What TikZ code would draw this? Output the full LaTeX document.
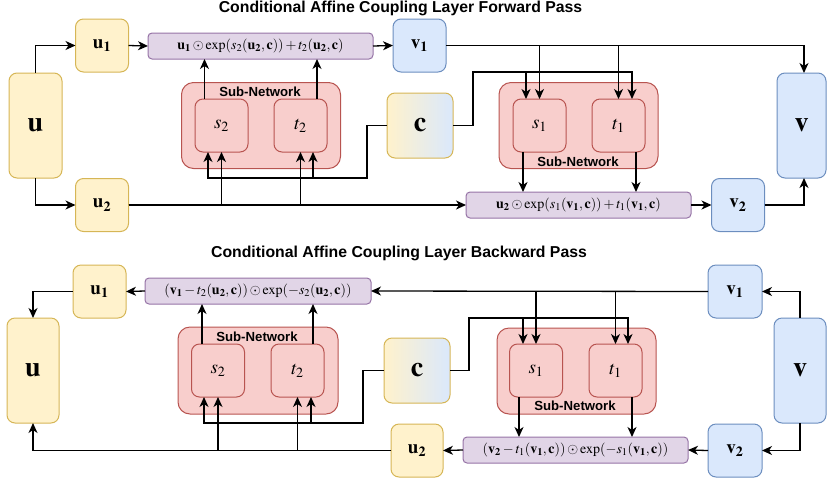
\documentclass[tikz,border=0pt]{standalone}
\usepackage{mathptmx}
\usepackage[no-math]{fontspec}
\setmainfont{Liberation Serif}
\newfontfamily\titlefont{Liberation Sans}
\usetikzlibrary{arrows.meta,calc}
\definecolor{yfill}{HTML}{FFF2CC}
\definecolor{ydraw}{HTML}{D6B656}
\definecolor{bfill}{HTML}{DAE8FC}
\definecolor{bdraw}{HTML}{6C8EBF}
\definecolor{pfill}{HTML}{E1D5E7}
\definecolor{pdraw}{HTML}{9673A6}
\definecolor{rfill}{HTML}{F8CECC}
\definecolor{rdraw}{HTML}{B85450}
\tikzset{
  basebox/.style={line width=1pt, inner sep=0pt, outer sep=0pt, text=black},
  ybox/.style={basebox, fill=yfill, draw=ydraw, rounded corners=8pt},
  bbox/.style={basebox, fill=bfill, draw=bdraw, rounded corners=8pt},
  gbox/.style={basebox, left color=yfill, right color=bfill, draw=ydraw, rounded corners=8pt},
  pbox/.style={basebox, fill=pfill, draw=pdraw, rounded corners=4pt, minimum width=225pt, minimum height=26pt, font=\fontsize{14}{14}\selectfont},
  subnet/.style={basebox, fill=rfill, draw=rdraw, rounded corners=12pt, minimum width=159pt, minimum height=86pt},
  inner/.style={basebox, fill=rfill, draw=rdraw, rounded corners=8pt, minimum width=53pt, minimum height=53pt, font=\fontsize{19}{19}\selectfont},
  small/.style={minimum width=53pt, minimum height=53pt, font=\fontsize{19}{19}\selectfont},
  big/.style={minimum width=53pt, minimum height=105pt, font=\fontsize{28}{28}\selectfont},
  cnode/.style={minimum width=66pt, minimum height=65pt, font=\fontsize{28}{28}\selectfont},
  ttl/.style={font=\titlefont\bfseries\fontsize{15.8}{16}\selectfont, inner sep=0pt},
  snl/.style={font=\titlefont\bfseries\fontsize{13.2}{14}\selectfont, inner sep=0pt},
  arr/.style={line width=1.3pt, -{Stealth[length=10pt,width=9pt,inset=3pt]}},
}
\begin{document}
\begin{tikzpicture}[x=1pt,y=-1pt]
\useasboundingbox (0,0) rectangle (827,483);
% ---------------- Forward pass ----------------
\node[ttl] (titleF) at (400.5,8) {Conditional Affine Coupling Layer Forward Pass};
\node[ybox,big] (uT) at (35.5,125.5) {$\mathbf{u}$};
\node[ybox,small] (u1T) at (102,45.5) {$\mathbf{u_1}$};
\node[ybox,small] (u2T) at (102,205) {$\mathbf{u_2}$};
\node[pbox] (f1T) at (260.5,46) {$\mathbf{u_1}\odot\exp(s_2(\mathbf{u_2},\mathbf{c}))+t_2(\mathbf{u_2},\mathbf{c})$};
\node[bbox,small] (v1T) at (419.5,45.5) {$\mathbf{v_1}$};
\node[subnet] (subLT) at (261,125.5) {};
\node[snl] (lblLT) at (260,92) {Sub-Network};
\node[inner] (s2T) at (221.5,125.5) {$s_2$};
\node[inner] (t2T) at (300.5,125.5) {$t_2$};
\node[gbox,cnode] (cT) at (420,125.5) {$\mathbf{c}$};
\node[subnet] (subRT) at (578.5,125.5) {};
\node[snl] (lblRT) at (578,162) {Sub-Network};
\node[inner] (s1T) at (539.5,125.5) {$s_1$};
\node[inner] (t1T) at (618.5,125.5) {$t_1$};
\node[pbox] (f2T) at (578.5,205) {$\mathbf{u_2}\odot\exp(s_1(\mathbf{v_1},\mathbf{c}))+t_1(\mathbf{v_1},\mathbf{c})$};
\node[bbox,small] (v2T) at (738,205) {$\mathbf{v_2}$};
\node[bbox,big,minimum width=49pt] (vT) at (801.5,125.5) {$\mathbf{v}$};
% connectors forward
\draw[arr] (uT.north) |- (u1T.west);
\draw[arr] (uT.south) |- (u2T.west);
\draw[arr] (u1T.east) -- (f1T.west);
\draw[arr] (f1T.east) -- (v1T.west);
\draw[arr] ([xshift=-17pt]s2T.north) -- ([xshift=-17pt]s2T.north |- f1T.south);
\draw[arr] ([xshift=16.5pt]t2T.north) -- ([xshift=16.5pt]t2T.north |- f1T.south);
\draw[arr] (u2T.east) -- (f2T.west);
\draw[arr] (u2T.east) -| (s2T.south);
\draw[arr] (u2T.east) -| (t2T.south);
\draw[arr] (cT.west) -- ++(-20,0) -- ++(0,52.5) -| ([xshift=-13.5pt]s2T.south);
\draw[arr] (cT.west) -- ++(-20,0) -- ++(0,52.5) -| ([xshift=12.5pt]t2T.south);
\draw[arr] (v1T.east) -| ([xshift=2.5pt]vT.north);
\draw[arr] (v1T.east) -| (s1T.north);
\draw[arr] (v1T.east) -| (t1T.north);
\draw[arr] (cT.east) -- ++(20,0) -- ++(0,-53.5) -| ([xshift=-13.5pt]s1T.north);
\draw[arr] (cT.east) -- ++(20,0) -- ++(0,-53.5) -| ([xshift=13.5pt]t1T.north);
\draw[arr] ([xshift=-16.5pt]s1T.south) -- ([xshift=-16.5pt]s1T.south |- f2T.north);
\draw[arr] ([xshift=17.5pt]t1T.south) -- ([xshift=17.5pt]t1T.south |- f2T.north);
\draw[arr] (f2T.east) -- (v2T.west);
\draw[arr] (v2T.east) -| ([xshift=2.5pt]vT.south);
% ---------------- Backward pass ----------------
\node[ttl] (titleB) at (399,253) {Conditional Affine Coupling Layer Backward Pass};
\node[ybox,small] (u1B) at (99.5,291.5) {$\mathbf{u_1}$};
\node[ybox,big,minimum width=52pt] (uB) at (33,370.5) {$\mathbf{u}$};
\node[pbox,minimum width=226pt] (f1B) at (258,291) {$(\mathbf{v_1}-t_2(\mathbf{u_2},\mathbf{c}))\odot\exp(-s_2(\mathbf{u_2},\mathbf{c}))$};
\node[subnet,minimum width=160pt,minimum height=87pt] (subLB) at (258,370.5) {};
\node[snl] (lblLB) at (257,337) {Sub-Network};
\node[inner] (s2B) at (218,370.5) {$s_2$};
\node[inner] (t2B) at (297.5,370.5) {$t_2$};
\node[gbox,cnode] (cB) at (417,370.5) {$\mathbf{c}$};
\node[ybox,small,minimum width=52pt] (u2B) at (417,450.5) {$\mathbf{u_2}$};
\node[subnet] (subRB) at (576.5,371) {};
\node[snl] (lblRB) at (575,406) {Sub-Network};
\node[inner] (s1B) at (536,370.5) {$s_1$};
\node[inner] (t1B) at (615.5,370.5) {$t_1$};
\node[pbox] (f2B) at (575.5,450) {$(\mathbf{v_2}-t_1(\mathbf{v_1},\mathbf{c}))\odot\exp(-s_1(\mathbf{v_1},\mathbf{c}))$};
\node[bbox,small,minimum width=54pt] (v1B) at (735,291.5) {$\mathbf{v_1}$};
\node[bbox,big,minimum width=52pt] (vB) at (800,370.5) {$\mathbf{v}$};
\node[bbox,small,minimum width=54pt] (v2B) at (735,450.5) {$\mathbf{v_2}$};
% connectors backward
\draw[arr] (vB.north) |- (v1B.east);
\draw[arr] (vB.south) |- (v2B.east);
\draw[arr] (v2B.west) -- (f2B.east);
\draw[arr] (f2B.west) -- (u2B.east);
\draw[arr] (v1B.west) -- (f1B.east);
\draw[arr] (v1B.west) -| (s1B.north);
\draw[arr] (v1B.west) -| (t1B.north);
\draw[arr] (cB.east) -- ++(19,0) -- ++(0,-52.5) -| ([xshift=-13pt]s1B.north);
\draw[arr] (cB.east) -- ++(19,0) -- ++(0,-52.5) -| ([xshift=12.5pt]t1B.north);
\draw[arr] ([xshift=-17pt]s1B.south) -- ([xshift=-17pt]s1B.south |- f2B.north);
\draw[arr] ([xshift=16.5pt]t1B.south) -- ([xshift=16.5pt]t1B.south |- f2B.north);
\draw[arr] (f1B.west) -- (u1B.east);
\draw[arr] (u1B.west) -| (uB.north);
\draw[arr] (u2B.west) -| (uB.south);
\draw[arr] (u2B.west) -| (s2B.south);
\draw[arr] (u2B.west) -| (t2B.south);
\draw[arr] (cB.west) -- ++(-21,0) -- ++(0,52.5) -| ([xshift=-14pt]s2B.south);
\draw[arr] (cB.west) -- ++(-21,0) -- ++(0,52.5) -| ([xshift=13.5pt]t2B.south);
\draw[arr] ([xshift=-16pt]s2B.north) -- ([xshift=-16pt]s2B.north |- f1B.south);
\draw[arr] ([xshift=15.5pt]t2B.north) -- ([xshift=15.5pt]t2B.north |- f1B.south);
\end{tikzpicture}
\end{document}
